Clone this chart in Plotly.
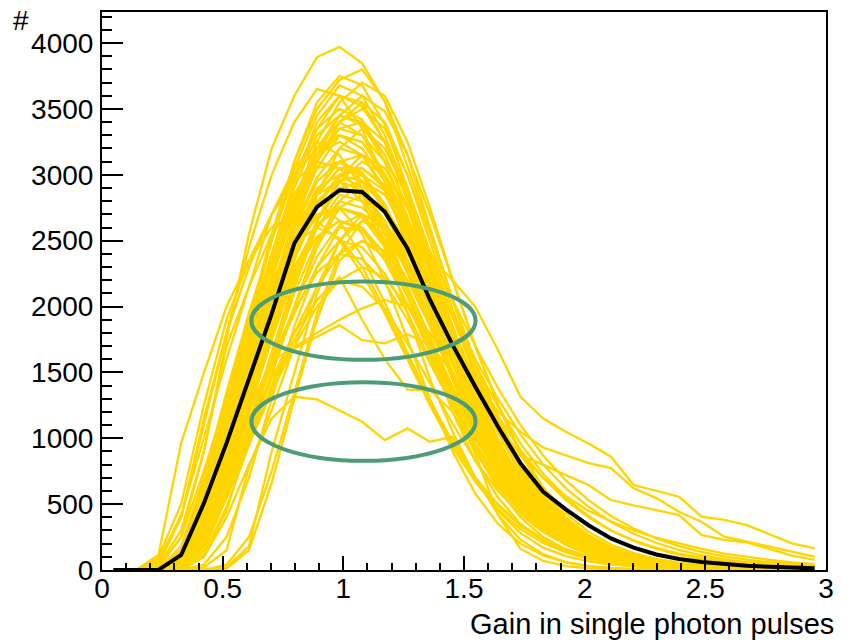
import plotly.graph_objects as go

# Bin centres of the gain histogram (32 bins from 0 to 3)
gain_bins = [0.047, 0.141, 0.234, 0.328, 0.422, 0.516, 0.609, 0.703, 0.797, 0.891,
             0.984, 1.078, 1.172, 1.266, 1.359, 1.453, 1.547, 1.641, 1.734, 1.828,
             1.922, 2.016, 2.109, 2.203, 2.297, 2.391, 2.484, 2.578, 2.672, 2.766,
             2.859, 2.953]

x_ticks = [0, 0.5, 1, 1.5, 2, 2.5, 3]
x_tick_labels = ["0", "0.5", "1", "1.5", "2", "2.5", "3"]
y_ticks = [0, 500, 1000, 1500, 2000, 2500, 3000, 3500, 4000]
y_tick_labels = ["0", "500", "1000", "1500", "2000", "2500", "3000", "3500", "4000"]

# Mean distribution (black)
mean_counts = [0, 0, 0, 114, 506, 963, 1451, 1945, 2480, 2757, 2883, 2870, 2719, 2440, 2050,
               1707, 1391, 1087, 810, 594, 460, 340, 240, 170, 118, 84, 60, 44, 32, 24, 18, 13]

# Individual PMT distributions (yellow)
pmt_main = [
    [0,0,20,250,900,1750,2550,3200,3600,3894,3971,3846,3553,3060,2580,2050,1560,1130,800,560,380,250,165,110,72,48,32,21,14,9,6,4],
    [0,0,0,120,560,1250,1900,2550,3100,3500,3720,3800,3560,3150,2600,2050,1550,1120,790,540,360,240,160,105,70,46,30,20,13,9,6,4],
    [0,0,0,60,350,900,1550,2200,2800,3250,3550,3700,3600,3250,2750,2200,1700,1250,880,600,400,265,175,115,75,50,33,22,14,9,6,4],
    [0,0,0,150,650,1300,1900,2500,3050,3450,3680,3600,3300,2850,2300,1800,1330,950,660,450,300,200,130,85,56,37,24,16,10,7,5,3],
    [0,0,40,400,1100,1800,2450,3000,3400,3650,3600,3350,2950,2450,1950,1500,1100,780,540,370,250,165,110,72,47,31,20,13,9,6,4,3],
    [0,0,0,90,480,1100,1750,2400,2950,3350,3600,3520,3250,2800,2300,1800,1350,980,690,470,315,210,140,92,60,40,26,17,11,7,5,3],
    [0,0,0,30,250,750,1350,2000,2600,3100,3400,3550,3400,3000,2500,1980,1500,1090,770,530,360,240,160,105,70,46,30,20,13,9,6,4],
    [0,0,10,180,700,1350,1950,2500,3000,3350,3500,3420,3100,2650,2150,1680,1250,900,630,430,290,195,130,85,56,37,24,16,10,7,5,3],
    [0,0,0,70,420,1000,1600,2200,2750,3200,3450,3400,3150,2750,2250,1760,1320,950,670,460,310,205,135,90,59,39,26,17,11,7,5,3],
    [0,0,0,110,520,1150,1750,2300,2800,3200,3400,3300,3000,2580,2100,1650,1230,880,610,420,280,185,122,80,53,35,23,15,10,6,4,3],
    [0,0,0,20,200,650,1200,1800,2350,2850,3200,3350,3200,2850,2400,1920,1470,1080,760,520,350,235,155,102,67,44,29,19,12,8,5,3],
    [0,0,0,60,380,900,1500,2100,2650,3050,3300,3250,3000,2600,2120,1660,1240,890,620,425,285,190,125,82,54,36,23,15,10,7,4,3],
    [0,0,30,300,900,1700,2150,2700,3050,3250,3150,2900,2550,2100,1650,1250,900,640,440,300,200,132,87,57,37,24,16,10,7,5,3,2],
    [0,0,0,80,420,950,1500,2050,2600,2980,3200,3150,2900,2500,2050,1600,1200,860,600,410,275,182,120,79,52,34,22,15,10,6,4,3],
    [0,0,0,0,150,550,1050,1600,2150,2650,2980,3150,3050,2750,2300,1850,1420,1040,730,500,335,222,146,96,63,41,27,18,12,8,5,3],
    [0,0,0,130,560,1100,1650,2150,2600,2950,3100,3020,2750,2350,1900,1470,1090,780,545,372,250,165,109,71,47,31,20,13,9,6,4,3],
    [0,0,0,50,330,800,1350,1900,2450,2850,3050,3000,2780,2420,2000,1580,1190,860,600,410,275,182,120,79,52,34,22,15,10,6,4,3],
    [0,0,0,40,300,800,1400,2000,2550,2900,3000,2900,2600,2150,1650,1200,830,550,350,220,135,82,50,30,18,11,7,4,3,2,1,1],
    [0,0,0,0,120,480,950,1480,2000,2480,2800,2950,2850,2550,2150,1720,1320,970,690,480,330,225,152,102,68,45,30,20,13,9,6,4],
    [0,0,0,90,450,950,1450,1950,2400,2750,2900,2850,2620,2280,1880,1480,1110,800,560,385,260,172,113,74,49,32,21,14,9,6,4,3],
    [0,0,0,0,100,450,1000,1600,2150,2600,2850,2800,2600,2250,1850,1450,1080,780,545,375,253,168,111,73,48,31,20,13,9,6,4,3],
    [0,0,60,420,1000,1600,2150,2550,2750,2800,2650,2380,2030,1650,1290,970,700,490,335,225,150,100,66,43,28,18,12,8,5,3,2,1],
    [0,0,0,70,380,850,1350,1850,2300,2620,2750,2700,2480,2150,1770,1390,1040,750,525,360,243,161,106,70,46,30,19,13,8,5,4,2],
    [0,0,0,30,250,650,1100,1550,2000,2380,2620,2700,2620,2400,2100,1780,1460,1170,910,700,530,400,300,225,168,125,93,69,51,38,28,21],
    [0,0,0,110,480,950,1400,1850,2250,2530,2650,2580,2350,2020,1650,1290,960,690,480,330,222,147,97,64,42,27,18,12,8,5,3,2],
    [0,0,0,0,40,250,700,1300,1850,2300,2600,2580,2400,2100,1720,1340,1000,720,505,345,232,154,101,66,43,28,18,12,8,5,3,2],
    [0,0,0,20,200,550,950,1400,1800,2150,2400,2500,2420,2200,1900,1560,1220,920,670,480,335,230,157,106,71,47,31,20,13,9,6,4],
    [0,0,0,80,380,780,1200,1600,1980,2260,2400,2360,2180,1900,1570,1240,930,670,470,322,217,144,95,62,41,27,17,11,7,5,3,2],
    [0,0,0,60,300,650,1000,1380,1750,2050,2200,2150,1980,1720,1420,1110,830,600,420,288,194,129,85,56,37,24,16,10,7,4,3,2],
]

pmt_dense = [
    [0,0,0,100,500,1050,1650,2250,2800,3150,3300,3250,3000,2600,2150,1700,1280,920,640,440,295,196,129,85,56,37,24,16,10,7,4,3],
    [0,0,0,60,400,900,1450,2000,2500,2880,3100,3150,3000,2650,2200,1750,1320,960,680,465,312,207,137,90,59,39,25,16,11,7,5,3],
    [0,0,0,120,560,1100,1650,2150,2600,2850,2950,2880,2650,2300,1900,1500,1130,820,575,395,265,176,116,76,50,33,21,14,9,6,4,3],
    [0,0,0,80,470,1050,1700,2350,2900,3300,3450,3380,3100,2680,2180,1700,1270,910,640,440,295,196,129,85,56,37,24,16,10,7,4,3],
    [0,0,0,40,330,800,1350,1900,2400,2780,3000,3050,2920,2600,2180,1750,1340,980,700,480,325,217,143,94,62,41,27,17,11,7,5,3],
    [0,0,0,140,600,1150,1650,2100,2450,2680,2750,2680,2450,2120,1740,1360,1020,740,520,358,242,161,106,70,46,30,19,13,8,5,4,2],
    [0,0,0,70,450,1050,1700,2350,2950,3400,3600,3550,3250,2800,2250,1750,1300,930,650,445,300,199,131,86,57,37,24,16,10,7,4,3],
    [0,0,0,10,180,550,1000,1500,2000,2450,2750,2850,2750,2480,2100,1700,1300,950,670,460,310,206,136,89,58,38,25,16,11,7,5,3],
    [0,0,0,130,600,1200,1800,2350,2850,3150,3250,3150,2880,2480,2020,1580,1180,850,590,405,272,181,119,78,51,33,22,14,9,6,4,3],
    [0,0,0,90,450,920,1400,1850,2250,2530,2650,2600,2400,2080,1710,1340,1000,720,505,347,234,155,102,67,44,29,19,12,8,5,3,2],
    [0,0,0,50,360,880,1450,2050,2650,3100,3350,3400,3250,2900,2420,1930,1470,1070,750,515,347,231,152,100,66,43,28,18,12,8,5,3],
    [0,0,0,150,650,1250,1850,2400,2800,3050,3100,3000,2720,2320,1870,1440,1060,760,530,364,245,163,107,70,46,30,19,13,8,5,4,2],
    [0,0,0,60,350,750,1150,1550,1950,2300,2500,2450,2250,1950,1600,1260,950,690,485,334,225,150,99,65,43,28,18,12,8,5,3,2],
    [0,0,0,30,300,800,1400,2050,2650,3100,3400,3500,3350,3000,2550,2050,1580,1160,820,565,382,255,168,110,72,47,31,20,13,9,6,4],
    [0,0,0,60,380,900,1450,2000,2500,2850,3050,3050,2900,2650,2300,1950,1600,1300,1030,800,620,480,365,275,205,152,112,82,60,44,32,23],
    [0,0,0,30,260,700,1200,1750,2250,2650,2900,2950,2850,2600,2280,1920,1560,1240,960,730,550,410,300,220,160,115,82,58,41,29,20,14],
]

pmt_extra = [
    [0,0,20,250,750,1300,1800,2200,2480,2600,2520,2300,1980,1620,1270,960,700,500,345,235,158,105,69,45,29,19,12,8,5,3,2,1],
    [0,0,0,30,220,560,950,1350,1700,2000,2200,2300,2220,2000,1700,1380,1070,800,580,410,285,195,132,88,58,38,25,16,10,7,4,3],
    [0,0,0,90,450,1000,1600,2200,2750,3150,3350,3300,3100,2850,2350,1850,1380,990,690,470,315,210,138,90,59,38,25,16,10,7,4,3],
    [0,0,0,120,550,1200,1850,2500,3100,3550,3750,3680,3380,2900,2350,1820,1360,980,680,460,308,205,135,88,57,37,24,16,10,7,4,3],
    [0,0,0,50,320,850,1450,2100,2700,3150,3450,3600,3480,3150,2700,2200,1700,1260,900,630,430,290,193,128,84,55,36,23,15,10,6,4],
]

pmt_early = [
    [0,0,114,963,1495,2000,2350,2600,2700,2650,2500,2250,1950,1600,1250,930,670,460,310,205,135,88,57,37,24,15,10,6,4,3,2,1],
    [0,0,100,500,1250,1900,2350,2700,2950,3100,3050,2850,2500,2080,1650,1260,930,660,460,315,212,141,93,61,40,26,17,11,7,5,3,2],
    [0,0,80,400,1150,1800,2300,2700,3000,3200,3300,3200,2950,2550,2100,1650,1240,890,620,425,287,191,126,83,54,35,23,15,10,6,4,3],
]

pmt_late = [
    [0,0,0,0,0,20,180,900,1500,2100,2500,2700,2600,2300,1900,1480,1100,780,540,370,250,165,108,70,46,30,20,13,8,5,3,2],
    [0,0,0,0,0,40,250,750,1350,1950,2400,2650,2600,2350,1980,1560,1170,840,590,405,275,183,121,80,52,34,22,14,9,6,4,3],
    [0,0,0,0,0,10,150,660,1300,1900,2350,2500,2380,2080,1700,1300,950,670,460,310,208,138,90,59,38,25,16,10,7,4,3,2],
    [0,0,0,0,20,150,784,1214,1700,2150,2500,2650,2550,2280,1900,1500,1120,800,560,385,260,172,113,74,48,31,20,13,8,5,3,2],
]

pmt_narrow = [
    [0,0,0,60,380,900,1500,2100,2600,2950,3100,2950,2600,2100,1650,1300,880,420,160,70,30,12,5,2,1,0,0,0,0,0,0,0],
    [0,0,0,40,300,800,1350,1950,2450,2800,2950,2800,2450,1950,1450,1050,700,420,230,120,60,30,15,7,3,1,0,0,0,0,0,0],
    [0,0,0,100,480,1000,1550,2050,2450,2700,2750,2550,2200,1750,1300,900,580,350,200,110,58,30,15,7,3,1,0,0,0,0,0,0],
]

pmt_tail = [
    [0,0,0,40,300,750,1250,1750,2250,2650,2950,3000,2880,2650,2380,2200,1998,1669,1315,1150,1049,960,860,645,600,556,405,380,341,270,202,164],
    [0,0,0,60,350,800,1300,1800,2250,2600,2800,2750,2600,2350,2050,1750,1450,1200,1050,930,870,812,774,620,546,442,366,253,215,180,140,101],
    [0,0,0,30,250,650,1100,1600,2100,2500,2750,2700,2500,2200,1850,1500,1200,980,870,800,720,645,531,490,455,417,266,228,210,160,110,76],
    [0,0,0,50,320,780,1300,1850,2350,2750,3000,2950,2750,2450,2080,1700,1380,1100,880,700,560,450,370,300,245,200,160,125,98,76,58,45],
    [0,0,0,20,200,600,1100,1650,2200,2650,2950,3100,3000,2750,2420,2050,1700,1380,1100,870,680,530,410,315,240,182,138,104,78,58,43,32],
]

# Outlier PMTs (highlighted by the ellipses)
pmt_low = [
    [0,0,0,50,280,650,1050,1450,1800,2050,2225,1900,1600,1370,1366,1200,900,620,400,250,155,95,58,35,21,13,8,5,3,2,1,1],
    [0,0,0,60,300,750,1200,1593,1680,1770,1859,1745,1720,1790,1707,1500,1100,750,480,300,190,120,75,47,30,19,12,8,5,3,2,1],
    [0,0,0,50,300,700,1100,1450,1694,1800,1900,1986,2050,2000,1800,1500,1150,820,560,380,250,165,108,70,46,30,20,13,8,5,3,2],
    [0,0,0,0,100,400,800,1150,1315,1295,1211,1125,986,1075,974,1011,700,450,280,170,105,65,40,25,15,9,6,4,2,1,1,0],
]

FONT = "Liberation Sans, Arial, Helvetica, sans-serif"
YELLOW = "#FFD500"
GREEN = "#4C9C78"

fig = go.Figure()
for group in (pmt_early, pmt_main, pmt_dense, pmt_extra, pmt_narrow, pmt_late, pmt_tail, pmt_low):
    for counts in group:
        fig.add_trace(go.Scatter(x=gain_bins, y=counts, mode="lines",
                                 line=dict(color=YELLOW, width=2.3),
                                 hoverinfo="skip", showlegend=False))

fig.add_trace(go.Scatter(x=gain_bins, y=mean_counts, mode="lines",
                         line=dict(color="black", width=4),
                         hoverinfo="skip", showlegend=False))

# Highlight ellipses
fig.add_shape(type="circle", xref="x", yref="y", x0=0.619, x1=1.548, y0=1596, y1=2190,
              line=dict(color=GREEN, width=4), layer="above")
fig.add_shape(type="circle", xref="x", yref="y", x0=0.619, x1=1.548, y0=829, y1=1426,
              line=dict(color=GREEN, width=4), layer="above")

axis_common = dict(showline=True, linewidth=2, linecolor="black", mirror=True,
                   showgrid=False, zeroline=False, ticks="inside", tickwidth=2,
                   tickcolor="black",
                   tickfont=dict(family=FONT, size=28, color="black"))

fig.update_layout(
    width=842, height=643,
    margin=dict(l=102, r=8, t=12, b=73),
    paper_bgcolor="white", plot_bgcolor="white",
    showlegend=False,
    xaxis=dict(range=[0, 3], tickmode="array", tickvals=x_ticks, ticktext=x_tick_labels,
               ticklen=14, ticklabelstandoff=-8,
               minor=dict(ticks="inside", ticklen=7, tickwidth=2, tickcolor="black",
                          dtick=0.1, tick0=0),
               **axis_common),
    yaxis=dict(range=[0, 4236], tickmode="array", tickvals=y_ticks, ticktext=y_tick_labels,
               ticklen=21, ticklabelstandoff=1,
               minor=dict(ticks="inside", ticklen=10, tickwidth=2, tickcolor="black",
                          dtick=100, tick0=0),
               **axis_common),
    annotations=[
        dict(text="#", xref="paper", yref="paper", x=-0.112, y=0.985,
             xanchor="center", yanchor="middle", showarrow=False,
             font=dict(family=FONT, size=28, color="black")),
        dict(text="Gain in single photon pulses", xref="paper", yref="paper",
             x=1.014, y=-0.0968, xanchor="right", yanchor="middle", showarrow=False,
             font=dict(family=FONT, size=29, color="black")),
    ],
)

fig.write_html("out.html")
